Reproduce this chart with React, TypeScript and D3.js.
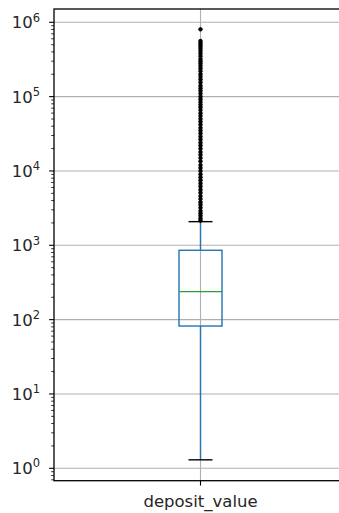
import React from "react";
import * as d3 from "d3";

// Box statistics for the deposit_value column
const categories = ["deposit_value"];
const q1Values = [82];
const medianValues = [238];
const q3Values = [857];
const whiskerLowValues = [1.3];
const whiskerHighValues = [2080];

// Points beyond the upper whisker
const outlierValues = [
  805000, 560000, 530000, 500000, 470000, 440000, 410000, 380000, 350000,
  320000, 300000, 280000, 260000, 240000, 220000, 200000, 185000, 170000,
  155000, 140000, 130000, 120000, 110000, 100000, 92000, 85000, 78000, 72000,
  66000, 60000, 55000, 50000, 46000, 42000, 38000, 35000, 32000, 29000, 26500,
  24000, 22000, 20000, 18000, 16500, 15000, 13500, 12000, 11000, 10000, 9000,
  8200, 7500, 6800, 6200, 5600, 5100, 4600, 4200, 3800, 3500, 3200, 2900,
  2700, 2500, 2300, 2150,
];

const yTickExponents = [0, 1, 2, 3, 4, 5, 6];

const W = 339;
const H = 513;
const left = 54;
const right = 347;
const top = 9;
const bottom = 480.7;

export default function App() {
  const y = d3.scaleLog().domain([0.681, 1.51e6]).range([bottom, top]);
  const x = d3.scaleBand<string>().domain(categories).range([left, right]);

  const minorTicks: number[] = [];
  for (let e = -1; e <= 6; e++) {
    for (let m = 2; m <= 9; m++) {
      const v = m * Math.pow(10, e);
      if (v >= y.domain()[0] && v <= y.domain()[1]) minorTicks.push(v);
    }
  }

  const font = "'DejaVu Sans', sans-serif";
  const textColor = "#262626";
  const grid = "#b0b0b0";

  return (
    <svg
      width={W}
      height={H}
      style={{ position: "absolute", left: 0, top: 0, background: "#fff" }}
    >
      {/* grid */}
      {yTickExponents.map((e) => (
        <line
          key={"g" + e}
          x1={left}
          x2={right}
          y1={y(Math.pow(10, e))}
          y2={y(Math.pow(10, e))}
          stroke={grid}
          strokeWidth={1.1}
        />
      ))}
      {categories.map((c) => {
        const cx = x(c)! + x.bandwidth() / 2;
        return (
          <line key={"vg" + c} x1={cx} x2={cx} y1={top} y2={bottom} stroke={grid} strokeWidth={1.1} />
        );
      })}

      {/* boxes */}
      {categories.map((c, i) => {
        const cx = x(c)! + x.bandwidth() / 2;
        const halfBox = 21.5;
        const halfCap = 12;
        return (
          <g key={"b" + c}>
            <line x1={cx} x2={cx} y1={y(q3Values[i])} y2={y(whiskerHighValues[i])} stroke="#1f77b4" strokeWidth={1.4} />
            <line x1={cx} x2={cx} y1={y(q1Values[i])} y2={y(whiskerLowValues[i])} stroke="#1f77b4" strokeWidth={1.4} />
            {outlierValues.map((v, k) => (
              <circle key={k} cx={cx} cy={y(v)} r={1.9} fill="#000" stroke="#000" strokeWidth={0.6} />
            ))}
            <line x1={cx - halfCap} x2={cx + halfCap} y1={y(whiskerHighValues[i])} y2={y(whiskerHighValues[i])} stroke="#000" strokeWidth={1.4} />
            <line x1={cx - halfCap} x2={cx + halfCap} y1={y(whiskerLowValues[i])} y2={y(whiskerLowValues[i])} stroke="#000" strokeWidth={1.4} />
            <rect
              x={cx - halfBox}
              y={y(q3Values[i])}
              width={halfBox * 2}
              height={y(q1Values[i]) - y(q3Values[i])}
              fill="none"
              stroke="#1f77b4"
              strokeWidth={1.4}
            />
            <line x1={cx - halfBox} x2={cx + halfBox} y1={y(medianValues[i])} y2={y(medianValues[i])} stroke="#2ca02c" strokeWidth={1.4} />
          </g>
        );
      })}

      {/* y axis ticks */}
      {minorTicks.map((v) => (
        <line key={"m" + v} x1={left - 2.8} x2={left} y1={y(v)} y2={y(v)} stroke="#000" strokeWidth={0.8} />
      ))}
      {yTickExponents.map((e) => {
        const yy = y(Math.pow(10, e));
        return (
          <g key={"t" + e}>
            <line x1={left - 4.9} x2={left} y1={yy} y2={yy} stroke="#000" strokeWidth={1.1} />
            <text x={40} y={yy + 6} textAnchor="end" fontFamily={font} fontSize={16.5} fill={textColor}>
              10
              <tspan fontSize={11.5} dy={-6.8}>{e}</tspan>
            </text>
          </g>
        );
      })}

      {/* x axis ticks and labels */}
      {categories.map((c) => {
        const cx = x(c)! + x.bandwidth() / 2;
        return (
          <g key={"xt" + c}>
            <line x1={cx} x2={cx} y1={bottom} y2={bottom + 4.9} stroke="#000" strokeWidth={1.1} />
            <text x={cx} y={507} textAnchor="middle" fontFamily={font} fontSize={16.5} fill={textColor}>
              {c}
            </text>
          </g>
        );
      })}

      {/* spines */}
      <rect x={left} y={top} width={right - left} height={bottom - top} fill="none" stroke="#000" strokeWidth={1.3} />
    </svg>
  );
}
